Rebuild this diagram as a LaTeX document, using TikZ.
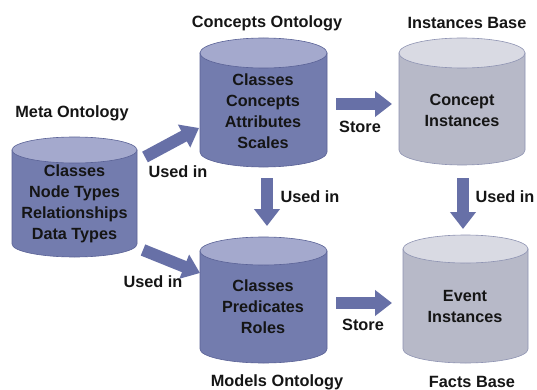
\documentclass[tikz,border=0pt]{standalone}
\usepackage{fontspec}
\setmainfont{Liberation Sans}
\usetikzlibrary{arrows.meta}
\definecolor{darkbody}{HTML}{737CAE}
\definecolor{darktop}{HTML}{A4A9CD}
\definecolor{darkline}{HTML}{5A6296}
\definecolor{lightbody}{HTML}{B7B9C8}
\definecolor{lighttop}{HTML}{D9DAE3}
\definecolor{lightline}{HTML}{8E93B2}
\definecolor{arrowc}{HTML}{6770A7}
\definecolor{txt}{HTML}{151515}
\tikzset{
  lbl/.style={font=\bfseries\fontsize{16.3}{18}\selectfont, text=txt, inner sep=0pt},
  inner/.style={font=\bfseries\fontsize{16.2}{21}\selectfont, text=txt, align=center, inner sep=0pt},
  barrow/.style={arrowc, line width=12pt, -{Triangle[length=17pt,width=25pt]}},
}
% \cyl{L}{R}{T}{B}{r}{body}{top}{line}
\newcommand{\cyl}[8]{%
  \pgfmathsetmacro{\cx}{(#1+#2)/2}%
  \pgfmathsetmacro{\rx}{(#2-#1)/2}%
  \fill[#6, draw=#8, line width=0.6pt] (#1,#3+#5) -- (#1,#4-#5) arc[start angle=180, end angle=360, x radius=\rx, y radius=-#5] -- (#2,#3+#5) -- cycle;
  \fill[#7, draw=#8, line width=0.6pt] (\cx,#3+#5) ellipse[x radius=\rx, y radius=#5];
}
\begin{document}
\begin{tikzpicture}[x=1pt,y=-1pt]
\useasboundingbox[fill=white] (0,0) rectangle (537,390);
% cylinders
\cyl{12}{137}{137}{257}{13}{darkbody}{darktop}{darkline}
\cyl{200}{327}{38}{167}{15}{darkbody}{darktop}{darkline}
\cyl{399}{525}{38}{165}{15}{lightbody}{lighttop}{lightline}
\cyl{200}{327}{237}{363}{14}{darkbody}{darktop}{darkline}
\cyl{403}{528}{235}{363}{14}{lightbody}{lighttop}{lightline}
% contents
\node[inner] (meta) at (74.5,204) {Classes\\Node Types\\Relationships\\Data Types};
\node[inner] (conc) at (263,111) {Classes\\Concepts\\Attributes\\Scales};
\node[inner] (inst) at (462,110) {Concept\\Instances};
\node[inner] (mod) at (263,307) {Classes\\Predicates\\Roles};
\node[inner] (fact) at (465,307) {Event\\Instances};
% titles
\node[lbl] (tmeta) at (72,113) {Meta Ontology};
\node[lbl] (tconc) at (267,23) {Concepts Ontology};
\node[lbl] (tinst) at (467,23) {Instances Base};
\node[lbl] (tmod) at (277,382) {Models Ontology};
\node[lbl] (tfact) at (472,382) {Facts Base};
% arrow endpoints
\coordinate (a1s) at (336,104); \coordinate (a1e) at (392,104);
\coordinate (a2s) at (336,303); \coordinate (a2e) at (392,303);
\coordinate (a3s) at (267,178); \coordinate (a3e) at (267,226);
\coordinate (a4s) at (463,178); \coordinate (a4e) at (463,229);
\coordinate (a5s) at (145,157); \coordinate (a5e) at (199,128);
\coordinate (a6s) at (143,250); \coordinate (a6e) at (200,273);
\draw[barrow] (a1s) -- (a1e);
\draw[barrow] (a2s) -- (a2e);
\draw[barrow] (a3s) -- (a3e);
\draw[barrow] (a4s) -- (a4e);
\draw[barrow] (a5s) -- (a5e);
\draw[barrow] (a6s) -- (a6e);
% arrow labels
\node[lbl] (l1) at (360,127) {Store};
\node[lbl] (l2) at (363,325) {Store};
\node[lbl] (l3) at (310,197) {Used in};
\node[lbl] (l4) at (505,197) {Used in};
\node[lbl] (l5) at (178,172) {Used in};
\node[lbl] (l6) at (153,282) {Used in};
\end{tikzpicture}
\end{document}
